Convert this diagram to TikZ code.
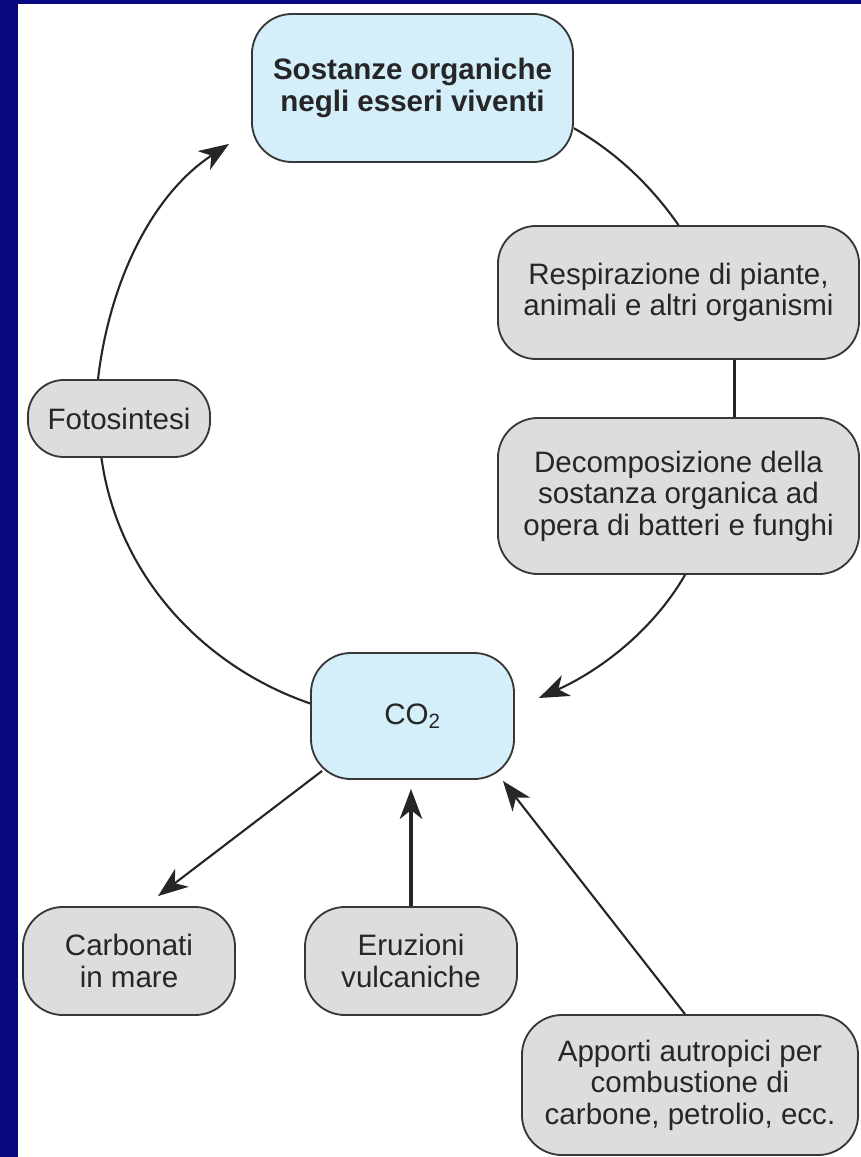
\documentclass[tikz,border=0pt]{standalone}
\usepackage{fontspec}
\setmainfont{Liberation Sans}
\usetikzlibrary{arrows.meta,calc}
\definecolor{slideblue}{RGB}{8,8,128}
\definecolor{cyclelight}{RGB}{212,238,250}
\definecolor{cyclegray}{RGB}{220,221,223}
\definecolor{edgegray}{RGB}{55,55,55}
\definecolor{inkgray}{RGB}{38,38,38}

\begin{document}
\begin{tikzpicture}[
x=0.025cm,
y=-0.025cm,
box/.style={
  draw=edgegray,
  line width=1.3pt,
  rounded corners=1cm,
  inner sep=0pt,
  align=center,
  text=inkgray,
  font=\fontsize{21}{22.5}\selectfont
  },
bluebox/.style={box, fill=cyclelight},
graybox/.style={box, fill=cyclegray},
link/.style={draw=inkgray, line width=1.5pt},
>={Stealth[length=0.75cm,width=0.56cm,inset=0.22cm]}
]

\fill[slideblue] (0,0) rectangle (861,1157);
\fill[white] (18,4) rectangle (861,1157);
\useasboundingbox (0,0) rectangle (861,1157);

\node[bluebox, minimum width=8.025cm, minimum height=3.7cm,
  font=\bfseries\fontsize{21}{22.5}\selectfont] (org) at (412.5,88)
  {Sostanze organiche\\negli esseri viventi};
\node[graybox, minimum width=9.025cm, minimum height=3.325cm,
  rounded corners=0.95cm] (resp) at (678.5,292.5)
  {Respirazione di piante,\\animali e altri organismi};
\node[graybox, minimum width=9.025cm, minimum height=3.9cm] (decomp) at (678.5,496)
  {Decomposizione della\\sostanza organica ad\\opera di batteri e funghi};
\node[graybox, minimum width=4.55cm, minimum height=1.925cm,
  rounded corners=0.9cm] (foto) at (119,418.5) {Fotosintesi};
\node[bluebox, minimum width=5.075cm, minimum height=3.15cm] (co2) at (412.5,716)
  {CO\textsubscript{2}};
\node[graybox, minimum width=5.3cm, minimum height=2.7cm] (carb) at (129,961)
  {Carbonati\\in mare};
\node[graybox, minimum width=5.3cm, minimum height=2.7cm] (eruz) at (411,961)
  {Eruzioni\\vulcaniche};
\node[graybox, minimum width=8.4cm, minimum height=3.5cm] (appo) at (690,1085)
  {Apporti autropici per\\combustione di\\carbone, petrolio, ecc.};

\draw[link] (org.-14) .. controls +(42,24) and +(-28,-40) .. (resp.north);
\draw[link] ($(resp.south)+(56,0)$) -- ($(decomp.north)+(56,0)$);
\draw[link,->] ($(decomp.south)+(6.5,0)$) .. controls +(-33,57) and +(60,-27)
  .. ($(co2.east)+(24,-18)$);
\draw[link] (co2.173) .. controls +(-110,-38) and +(16,115) .. (foto.-114);
\draw[link,->] ($(foto.north)+(-21,0)$) .. controls +(11,-94) and +(-79,52)
  .. ($(org.south west)+(-22,-19)$);
\draw[link,->] ($(co2.south west)+(12,-9)$) -- ($(carb.north)+(29,-10)$);
\draw[link,line width=2.3pt,->] (eruz.north) -- ($(eruz.north |- co2.south)+(0,9)$);
\draw[link,->] ($(appo.north)+(-5,0)$) -- ($(co2.south east)+(-12,1)$);
\end{tikzpicture}
\end{document}
